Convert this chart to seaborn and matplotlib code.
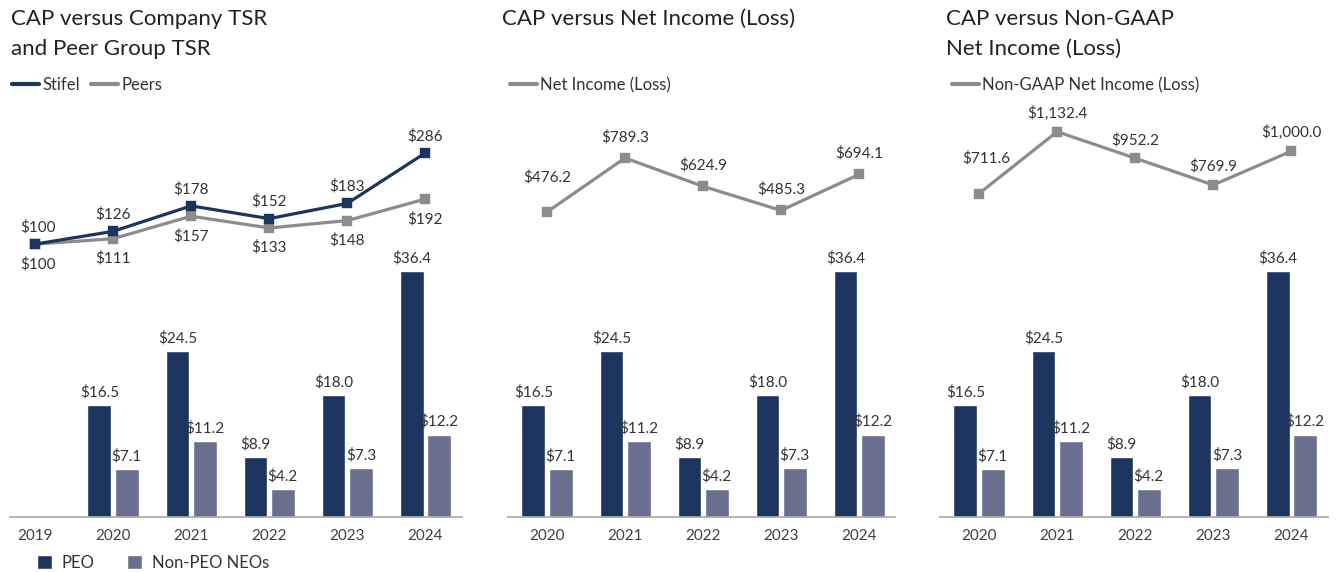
import numpy as np
import pandas as pd
import matplotlib
matplotlib.use("Agg")
import matplotlib.pyplot as plt
import seaborn as sns
from matplotlib.lines import Line2D
from matplotlib.patches import Patch

# data
tsr_years = ["2019", "2020", "2021", "2022", "2023", "2024"]
stifel_tsr = [100, 126, 178, 152, 183, 286]
peers_tsr = [100, 111, 157, 133, 148, 192]

cap_years = ["2020", "2021", "2022", "2023", "2024"]
peo_cap = [16.5, 24.5, 8.9, 18.0, 36.4]
neo_cap = [7.1, 11.2, 4.2, 7.3, 12.2]

net_income = [476.2, 789.3, 624.9, 485.3, 694.1]
non_gaap_income = [711.6, 1132.4, 952.2, 769.9, 1000.0]

bar_groups = ["PEO", "Non-PEO NEOs"]

# style
sns.set_theme(style="white")
plt.rcParams["font.family"] = ["Lato", "DejaVu Sans"]

NAVY = "#1b355f"
SLATE = "#6a6f8f"
GREY_LINE = "#8c8c8c"
TEXT = "#333333"
AXIS = "#a8a8a8"

W, H = 1337, 572
fig = plt.figure(figsize=(W / 100, H / 100), dpi=100)
fig.patch.set_facecolor("white")


def rect(x0, x1, ytop, ybot):
    return [x0 / W, 1 - ybot / H, (x1 - x0) / W, (ybot - ytop) / H]


cap_df = pd.DataFrame({
    "year": cap_years * 2,
    "group": [bar_groups[0]] * len(cap_years) + [bar_groups[1]] * len(cap_years),
    "value": peo_cap + neo_cap,
})

# pixel layout of each panel: x0, x1, xlim
panels = [
    dict(x0=10, x1=462, xlim=(-0.32, 5.47), order=tsr_years),
    dict(x0=508, x1=895, xlim=(-0.5, 4.46), order=cap_years),
    dict(x0=940, x1=1328, xlim=(-0.5, 4.47), order=cap_years),
]

bar_axes = []
line_axes = []
for p in panels:
    ax = fig.add_axes(rect(p["x0"], p["x1"], 200, 517))
    sns.barplot(data=cap_df, x="year", y="value", hue="group", order=p["order"],
                hue_order=bar_groups, palette=[NAVY, SLATE], width=0.7, gap=0.13,
                errorbar=None, ax=ax, legend=False, saturation=1)
    for cont in ax.containers:
        ax.bar_label(cont, fmt="${:.1f}", padding=4, fontsize=11, color=TEXT)
    ax.set_xlim(p["xlim"])
    ax.set_ylim(0, 317 / 6.76)
    ax.set_xlabel("")
    ax.set_ylabel("")
    ax.set_yticks([])
    for s in ["top", "right", "left"]:
        ax.spines[s].set_visible(False)
    ax.spines["bottom"].set_color(AXIS)
    ax.spines["bottom"].set_linewidth(1.2)
    ax.tick_params(axis="x", length=0, pad=9, labelsize=11, labelcolor="#404040")
    ax.set_facecolor("none")
    bar_axes.append(ax)

    lax = fig.add_axes(rect(p["x0"], p["x1"], 100, 300))
    lax.set_facecolor("none")
    lax.axis("off")
    line_axes.append(lax)

# panel 1: TSR lines
tsr_df = pd.DataFrame({
    "year": tsr_years * 2,
    "series": ["Stifel"] * len(tsr_years) + ["Peers"] * len(tsr_years),
    "value": stifel_tsr + peers_tsr,
})
lax = line_axes[0]
sns.pointplot(data=tsr_df, x="year", y="value", hue="series", order=tsr_years,
              hue_order=["Peers", "Stifel"], palette=[GREY_LINE, NAVY],
              markers="s", markersize=6, linewidth=2.3, errorbar=None, ax=lax, legend=False)
lax.set_xlim(panels[0]["xlim"])
lax.set_ylim(-14, 394)
lax.axis("off")
for i, v in enumerate(stifel_tsr):
    lax.annotate(f"${v:,.0f}", xy=(i, v), xytext=(2 if i == 0 else 0, 7),
                 textcoords="offset points", ha="center", va="bottom",
                 fontsize=11, color=TEXT)
for i, v in enumerate(peers_tsr):
    lax.annotate(f"${v:,.0f}", xy=(i, v), xytext=(2 if i == 0 else 0, -9),
                 textcoords="offset points", ha="center", va="top",
                 fontsize=11, color=TEXT)

# panels 2 and 3: income lines
income_sets = [
    (line_axes[1], panels[1]["xlim"], net_income, (-34, 1125.5), (0, 20), 10),
    (line_axes[2], panels[2]["xlim"], non_gaap_income, (-12.6, 1348), (5, 20), 8),
]
for lax, xlim, vals, ylim, first_off, off in income_sets:
    df = pd.DataFrame({"year": cap_years, "value": vals})
    sns.pointplot(data=df, x="year", y="value", order=cap_years, color=GREY_LINE,
                  markers="s", markersize=6, linewidth=2.3, errorbar=None, ax=lax)
    lax.set_xlim(xlim)
    lax.set_ylim(ylim)
    lax.axis("off")
    for i, v in enumerate(vals):
        xt = first_off if i == 0 else (0, off)
        lax.annotate(f"${v:,.1f}", xy=(i, v), xytext=xt, textcoords="offset points",
                     ha="center", va="bottom", fontsize=11, color=TEXT)

# titles
titles = [
    (11, "CAP versus Company TSR\nand Peer Group TSR"),
    (502, "CAP versus Net Income (Loss)"),
    (946, "CAP versus Non-GAAP\nNet Income (Loss)"),
]
for x, t in titles:
    fig.text(x / W, 1 - 9 / H, t, ha="left", va="top", fontsize=16,
             color="#222222", linespacing=1.6)

# line legends
legends = [
    (12, [("Stifel", NAVY), ("Peers", GREY_LINE)]),
    (510, [("Net Income (Loss)", GREY_LINE)]),
    (952, [("Non-GAAP Net Income (Loss)", GREY_LINE)]),
]
for x, items in legends:
    handles = [Line2D([0], [0], color=c, lw=3) for _, c in items]
    fig.legend(handles, [n for n, _ in items], loc="center left",
               bbox_to_anchor=(x / W, 1 - 85 / H), ncol=len(items), frameon=False,
               fontsize=12, handlelength=1.6, handletextpad=0.2, columnspacing=0.7,
               borderpad=0, borderaxespad=0, labelcolor=TEXT)

# bar legend
bar_handles = [Patch(facecolor=NAVY), Patch(facecolor=SLATE)]
fig.legend(bar_handles, bar_groups, loc="center left", bbox_to_anchor=(37 / W, 1 - 563 / H),
           ncol=2, frameon=False, fontsize=12, handlelength=0.9, handleheight=0.9,
           handletextpad=0.55, columnspacing=2.0, borderpad=0, borderaxespad=0,
           labelcolor=TEXT)

fig.savefig("out.png", dpi=100, facecolor="white")
